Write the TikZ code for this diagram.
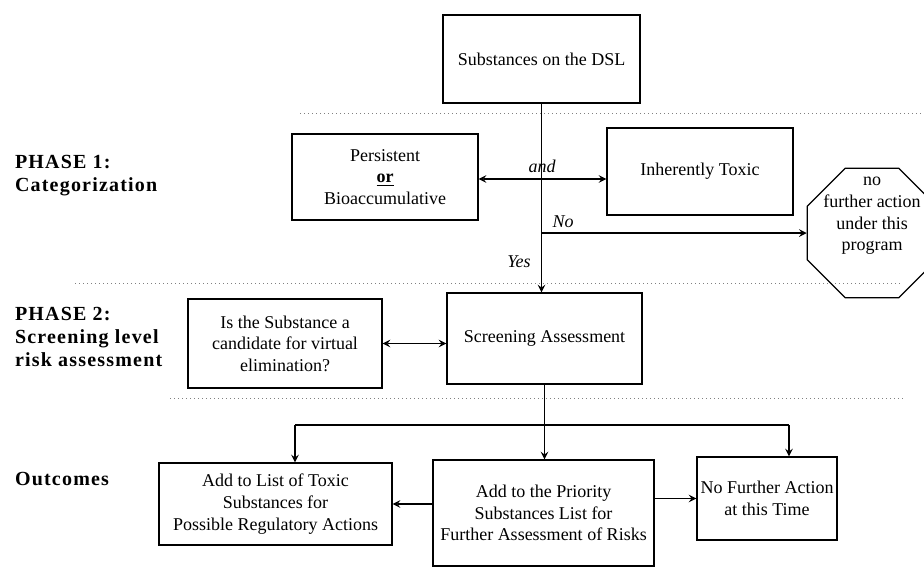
\documentclass[tikz,border=0pt]{standalone}
\usepackage{fontspec}
\setmainfont{Liberation Serif}
\newfontfamily\phasefont[LetterSpace=6]{Liberation Serif}
\usetikzlibrary{shapes.geometric}

\begin{document}
\begin{tikzpicture}[x=0.5pt, y=-0.5pt, >=stealth,
    every node/.style={font=\fontsize{9}{10.8}\selectfont},
    box/.style={draw, line width=0.6pt, align=center, inner sep=0pt},
    cue/.style={font=\fontsize{9}{10.8}\selectfont\itshape},
    phase/.style={anchor=west, align=left, font=\fontsize{10}{11.5}\selectfont\phasefont\bfseries},
    sep/.style={gray, line width=0.45pt, dash pattern=on 0.5pt off 1.5pt},
    link/.style={line width=0.7pt}]
    \clip (0,0) rectangle (924,569);

    % phase titles
    \node[phase] (ph1) at (8,176) {PHASE 1:\\Categorization};
    \node[phase] (ph2) at (8,337) {PHASE 2:\\Screening level\\risk assessment};
    \node[phase] (ph3) at (8,479) {Outcomes};

    % dotted separators
    \draw[sep] (300,113) -- (924,113);
    \draw[sep] (75,283) -- (900,283);
    \draw[sep] (170,398) -- (905,398);

    % phase 1
    \node[box, minimum width=98.5pt, minimum height=44pt] (dsl) at (541.5,59) {Substances on the DSL};
    \node[box, minimum width=93pt, minimum height=43pt] (pers) at (385,177) {Persistent\\\underline{\textbf{or}}\\Bioaccumulative};
    \node[box, minimum width=93pt, minimum height=43.5pt] (tox) at (700,171.5) {Inherently Toxic};
    \node[draw, line width=0.6pt, regular polygon, regular polygon sides=8, minimum size=70pt, inner sep=0pt] (stop) at (872,233) {};
    \node[align=center] (stoptxt) at (872,216) {no\\further action\\under this\\program};

    % phase 2
    \node[box, minimum width=97pt, minimum height=44.5pt] (elim) at (285,343.5) {Is the Substance a\\candidate for virtual\\elimination?};
    \node[box, minimum width=97.5pt, minimum height=45.5pt] (scr) at (544.5,338.5) {Screening Assessment};

    % outcomes
    \node[box, minimum width=116.5pt, minimum height=41pt] (tsl) at (275.5,504) {Add to List of Toxic\\Substances for\\Possible Regulatory Actions};
    \node[box, minimum width=110.5pt, minimum height=53pt] (psl) at (543.5,513) {Add to the Priority\\Substances List for\\Further Assessment of Risks};
    \node[box, minimum width=70pt, minimum height=41.5pt] (nfa) at (767,498.5) {No Further Action\\at this Time};

    \coordinate (andpt) at (542,179);
    \coordinate (nopt) at (542,233);
    \coordinate (forkL) at (295,425);
    \coordinate (forkR) at (789,425);

    \draw[link, ->] (dsl.south) -- (dsl.south |- scr.north);
    \draw[link, <->] (pers.east |- andpt) -- (tox.west |- andpt);
    \draw[link, ->] (nopt) -- (stop.west);
    \draw[link, <->] (elim.east) -- (elim.east -| scr.west);
    \draw[link, ->] (scr.south) -- (scr.south |- psl.north);
    \draw[link] (forkL) -- (forkR);
    \draw[link, ->] (forkL) -- (forkL |- tsl.north);
    \draw[link, ->] (forkR) -- (forkR |- nfa.north);
    \draw[link, ->] (psl.west |- tsl.east) -- (tsl.east);
    \draw[link, ->] (psl.east |- nfa.west) -- (nfa.west);

    \node[cue] (andlbl) at (542,166) {and};
    \node[cue] (nolbl) at (563,222) {No};
    \node[cue] (yeslbl) at (519,262) {Yes};
\end{tikzpicture}
\end{document}
